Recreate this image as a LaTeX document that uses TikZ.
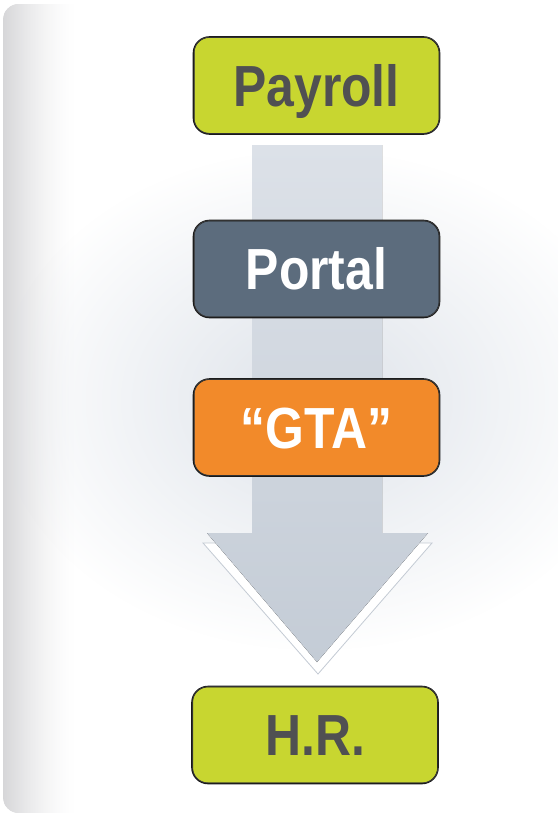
\documentclass[tikz,border=0pt]{standalone}
\usepackage{fontspec}
\newfontfamily\boxfont{Liberation Sans Bold}[FakeStretch=0.86]
\usetikzlibrary{fadings}
\tikzfading[name=glowfade, inner color=transparent!0, outer color=transparent!100]
\definecolor{limegreen}{RGB}{200,214,48}
\definecolor{slateblue}{RGB}{92,108,125}
\definecolor{boxorange}{RGB}{242,138,42}
\definecolor{darktext}{RGB}{80,80,82}
\definecolor{glowcol}{RGB}{222,227,234}
\definecolor{panelgray}{RGB}{214,214,216}
\definecolor{arrowtop}{RGB}{220,225,232}
\definecolor{arrowbot}{RGB}{196,204,214}
\definecolor{arrowedge}{RGB}{196,203,212}
\begin{document}
\begin{tikzpicture}[x=1pt,y=-1pt,
  flowbox/.style={draw=black!90, line width=1.6pt, rounded corners=16pt,
    minimum width=246pt, minimum height=97pt, inner sep=0pt,
    text height=41.5pt, text depth=0pt,
    font=\boxfont\fontsize{58}{62}\selectfont},
  sketch/.style={draw=black!75, line width=0.6pt, rounded corners=15pt}]
\useasboundingbox (0,0) rectangle (558,819);
\fill[white] (0,0) rectangle (558,819);
% background panel
\begin{scope}
  \clip (0,0) rectangle (558,819);
  \path[clip, rounded corners=16pt] (3,4) rectangle (640,813);
  \foreach \i in {0,...,74}{
    \pgfmathsetmacro\p{100*(1-\i/75)^1.6}
    \fill[panelgray!\p!white] (3+\i,4) rectangle (4.6+\i,813);
  }
  \fill[glowcol, path fading=glowfade] (315,400) ellipse (320 and 250);
\end{scope}
% arrow outline copy
\filldraw[fill=white, draw=arrowedge, line width=0.8pt]
  (203,543) -- (432,543) -- (318,674) -- cycle;
% main arrow
\fill[top color=arrowtop, bottom color=arrowbot]
  (252,145) -- (382,145) -- (382,533) -- (428,533) -- (317,662)
  -- (207,533) -- (252,533) -- cycle;
% boxes
\node[flowbox, fill=limegreen, text=darktext] (payroll) at (316.5,85.5) {Payroll};
\node[flowbox, fill=slateblue, text=white] (portal) at (316.5,269) {Portal};
\node[flowbox, fill=boxorange, text=white] (gta) at (316.5,427.5) {“GTA”};
\node[flowbox, fill=limegreen, text=darktext] (hr) at (315,735) {H.R.};
% sketchy second strokes
\foreach \b in {payroll,portal,gta,hr}{
  \draw[sketch] ([xshift=1.5pt,yshift=-1pt]\b.north west) rectangle ([xshift=-1pt,yshift=1.5pt]\b.south east);
}
\end{tikzpicture}
\end{document}
